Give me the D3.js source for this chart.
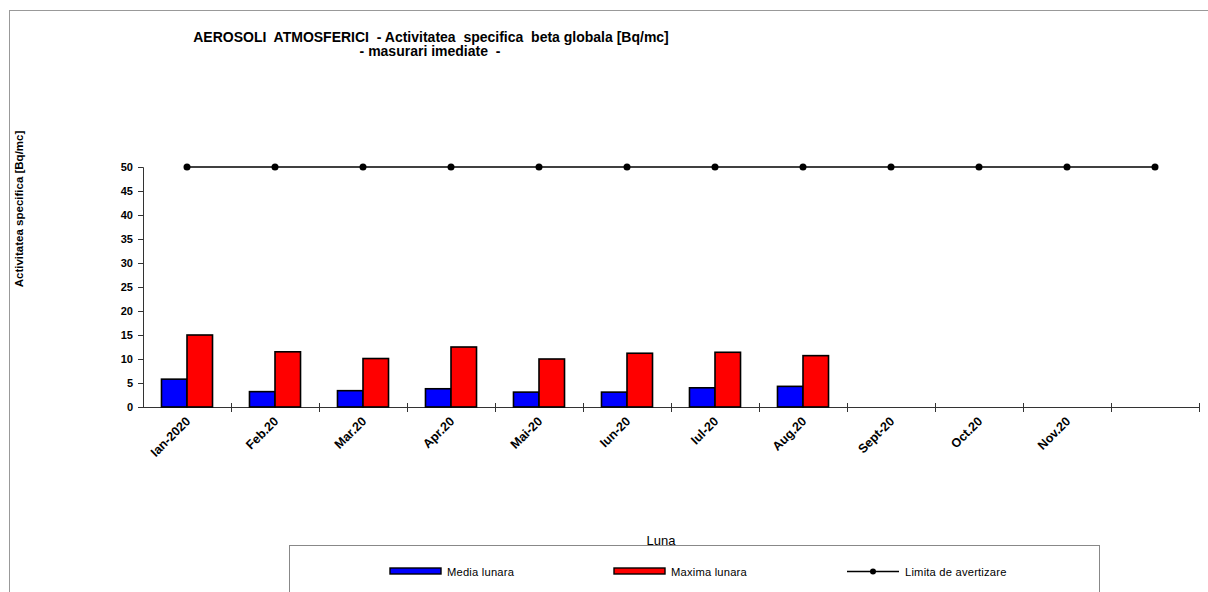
<!DOCTYPE html>
<html><head><meta charset="utf-8">
<script src="https://cdn.jsdelivr.net/npm/d3@7"></script>
<style>body{margin:0;background:#fff}svg{display:block}text{white-space:pre}</style>
</head><body>
<svg id="c" width="1208" height="592"></svg>
<script>
const categories = ["Ian-2020","Feb.20","Mar.20","Apr.20","Mai-20","Iun-20","Iul-20","Aug.20","Sept-20","Oct.20","Nov.20",""];
const mediaLunara = [5.8,3.2,3.4,3.8,3.1,3.1,4.0,4.3,null,null,null,null];
const maximaLunara = [15.0,11.5,10.1,12.5,10.0,11.2,11.4,10.7,null,null,null,null];
const limitaAvertizare = [50,50,50,50,50,50,50,50,50,50,50,50];
const yTicks = [0,5,10,15,20,25,30,35,40,45,50];
const seriesNames = ["Media lunara","Maxima lunara","Limita de avertizare"];
const colors = ["#0000ff","#ff0000","#000000"];

const ff = "Arial, 'Liberation Sans', sans-serif";
const svg = d3.select("#c");
svg.append("rect").attr("width",1208).attr("height",592).attr("fill","#fff");
// outer frame
svg.append("line").attr("x1",9).attr("x2",1208).attr("y1",10.5).attr("y2",10.5).attr("stroke","#999");
svg.append("line").attr("x1",9.5).attr("x2",9.5).attr("y1",10).attr("y2",592).attr("stroke","#999");

const x = d3.scaleBand().domain(categories).range([143,1199]).paddingInner(0.42).paddingOuter(0.21);
const xs = d3.scaleBand().domain([0,1]).range([0,x.bandwidth()]);
const y = d3.scaleLinear().domain([0,50]).range([407,167]);

// title
const t = svg.append("text").attr("font-family",ff).attr("font-weight","bold").attr("font-size",14).attr("text-anchor","middle").attr("fill","#000");
t.append("tspan").attr("x",431).attr("y",42).text("AEROSOLI  ATMOSFERICI  - Activitatea  specifica  beta globala [Bq/mc]");
t.append("tspan").attr("x",430).attr("y",56).text("- masurari imediate  -");

// y axis
const yAxis = svg.append("g").attr("transform","translate(143,0)")
  .call(d3.axisLeft(y).tickValues(yTicks).tickSize(5).tickPadding(5));
yAxis.select(".domain").attr("stroke","#333");
yAxis.selectAll(".tick line").attr("stroke","#333");
yAxis.selectAll("text").attr("font-family",ff).attr("font-weight","bold").attr("font-size",11).attr("fill","#000");

svg.append("text").attr("transform","translate(23,209) rotate(-90)").attr("text-anchor","middle")
  .attr("font-family",ff).attr("font-weight","bold").attr("font-size",11.5)
  .text("Activitatea specifica [Bq/mc]");

// x axis
svg.append("line").attr("x1",143).attr("x2",1199).attr("y1",407.5).attr("y2",407.5).attr("stroke","#333");
const bounds = categories.map(c=> x(c) - x.step()*x.paddingInner()/2 + x.step());
svg.append("g").selectAll("line").data(bounds).join("line")
  .attr("x1",d=>Math.round(d)+0.5).attr("x2",d=>Math.round(d)+0.5).attr("y1",403).attr("y2",412).attr("stroke","#333");

svg.append("g").selectAll("text").data(categories).join("text")
  .attr("transform",d=>`translate(${x(d)+x.bandwidth()/2+1},419) rotate(-45)`)
  .attr("text-anchor","end").attr("dy","0.35em")
  .attr("font-family",ff).attr("font-weight","bold").attr("font-size",12.5)
  .text(d=>d);

// bars
const barData = [];
categories.forEach((c,i)=>{
  if(mediaLunara[i]!=null) barData.push({c, k:0, v:mediaLunara[i]});
  if(maximaLunara[i]!=null) barData.push({c, k:1, v:maximaLunara[i]});
});
svg.append("g").selectAll("rect").data(barData).join("rect")
  .attr("x",d=>x(d.c)+xs(d.k)).attr("width",xs.bandwidth())
  .attr("y",d=>y(d.v)).attr("height",d=>y(0)-y(d.v))
  .attr("fill",d=>colors[d.k]).attr("stroke","#000").attr("stroke-width",1.6);

// limit line
const line = d3.line().x((d,i)=>x(categories[i])+x.bandwidth()/2).y(d=>y(d));
svg.append("path").datum(limitaAvertizare).attr("d",line).attr("fill","none").attr("stroke","#000").attr("stroke-width",1.5);
svg.append("g").selectAll("circle").data(limitaAvertizare).join("circle")
  .attr("cx",(d,i)=>x(categories[i])+x.bandwidth()/2).attr("cy",d=>y(d)).attr("r",3.5).attr("fill","#000");

// x title
svg.append("text").attr("x",661).attr("y",545).attr("text-anchor","middle")
  .attr("font-family",ff).attr("font-size",13).text("Luna");

// legend
svg.append("rect").attr("x",289.5).attr("y",545.5).attr("width",810).attr("height",60).attr("fill","none").attr("stroke","#888");
const lf = "'Liberation Sans Narrow', 'Arial Narrow', Arial, sans-serif";
[[390,0],[614,1]].forEach(([lx,k])=>{
  svg.append("rect").attr("x",lx).attr("y",568).attr("width",51).attr("height",6).attr("fill",colors[k]).attr("stroke","#000").attr("stroke-width",1.4);
  svg.append("text").attr("x",lx+57).attr("y",575.5).attr("font-family",lf).attr("font-size",11.2).attr("letter-spacing",0.2).text(seriesNames[k]);
});
svg.append("line").attr("x1",847).attr("x2",899).attr("y1",571.5).attr("y2",571.5).attr("stroke","#000").attr("stroke-width",1.5);
svg.append("circle").attr("cx",873).attr("cy",571.5).attr("r",3).attr("fill","#000");
svg.append("text").attr("x",905).attr("y",575.5).attr("font-family",lf).attr("font-size",11.2).attr("letter-spacing",0.2).text(seriesNames[2]);
</script>
</body></html>
